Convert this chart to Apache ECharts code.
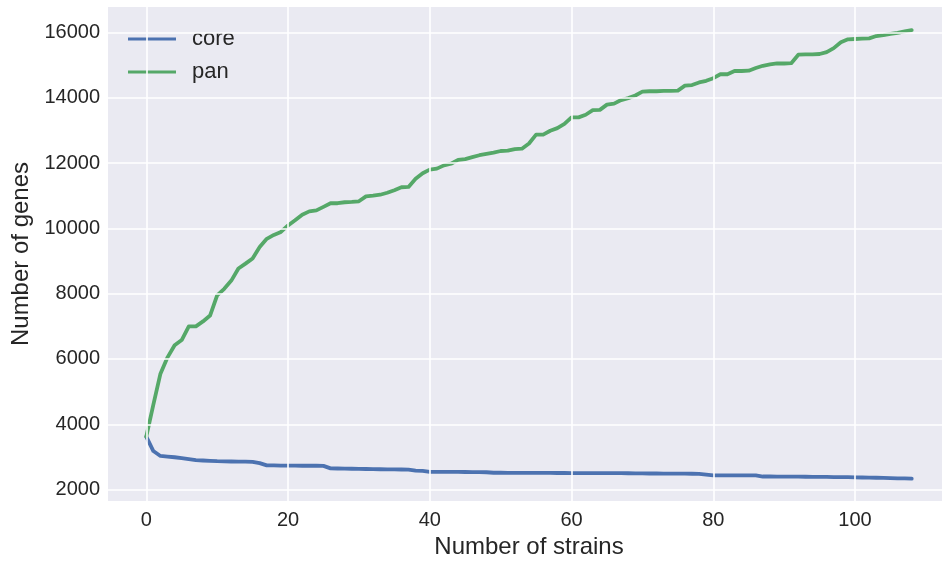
<!DOCTYPE html>
<html>
<head>
<meta charset="utf-8">
<script src="https://cdn.jsdelivr.net/npm/echarts@6/dist/echarts.min.js"></script>
<style>
html,body{margin:0;padding:0;background:#ffffff;}
#chart{width:942px;height:562px;}
</style>
</head>
<body>
<div id="chart"></div>
<script>
var seriesNames = ['core', 'pan'];
var core = [3620,3180,3030,3010,2990,2960,2930,2900,2890,2880,
  2870,2865,2860,2858,2855,2850,2810,2740,2740,2735,
  2735,2735,2730,2730,2730,2725,2650,2645,2640,2638,
  2635,2630,2625,2622,2620,2618,2615,2610,2580,2570,
  2545,2545,2543,2540,2540,2538,2535,2533,2530,2515,
  2515,2514,2513,2512,2511,2510,2510,2509,2508,2507,
  2506,2505,2505,2504,2503,2502,2502,2501,2500,2495,
  2494,2493,2492,2490,2489,2488,2486,2484,2480,2460,
  2435,2435,2434,2434,2433,2432,2432,2400,2400,2398,
  2396,2395,2394,2392,2390,2388,2386,2384,2382,2380,
  2375,2370,2366,2362,2358,2352,2346,2340,2335];
var pan = [3620,4600,5550,6050,6420,6580,7000,7000,7150,7330,
  7950,8150,8400,8770,8920,9080,9430,9680,9800,9890,
  10090,10250,10420,10520,10550,10660,10770,10770,10800,10810,
  10830,10980,11000,11030,11090,11170,11260,11270,11520,11690,
  11800,11830,11930,11980,12100,12120,12180,12240,12280,12320,
  12370,12380,12430,12440,12600,12870,12870,12990,13070,13200,
  13400,13400,13480,13620,13630,13790,13820,13930,13990,14070,
  14190,14200,14200,14210,14210,14220,14370,14390,14470,14520,
  14600,14720,14720,14820,14820,14830,14910,14980,15020,15050,
  15050,15060,15320,15330,15330,15340,15400,15520,15700,15790,
  15800,15810,15820,15890,15920,15960,15990,16030,16070];
var xTicks = [0, 20, 40, 60, 80, 100];
var yTicks = [2000, 4000, 6000, 8000, 10000, 12000, 14000, 16000];

function pairs(arr) { return arr.map(function (v, i) { return [i, v]; }); }

var textColor = '#262626';
var font = 'Liberation Sans';
var gridLines = [];
xTicks.forEach(function (t) { gridLines.push({ xAxis: t }); });
yTicks.forEach(function (t) { gridLines.push({ yAxis: t }); });

var chart = echarts.init(document.getElementById('chart'), null, { renderer: 'canvas' });
chart.setOption({
  animation: false,
  backgroundColor: '#ffffff',
  textStyle: { fontFamily: font },
  grid: {
    left: 108, top: 7, width: 842, height: 494,
    backgroundColor: '#EAEAF2', show: true, borderWidth: 0,
    containLabel: false, outerBoundsMode: 'none'
  },
  legend: {
    data: seriesNames,
    orient: 'vertical',
    left: 123, top: 23,
    itemWidth: 48, itemHeight: 3, itemGap: 11,
    textStyle: { fontSize: 22, color: textColor, fontFamily: font, padding: [0, 0, 0, 11] },
    icon: 'rect'
  },
  xAxis: {
    type: 'value', min: -5.4, max: 113.4,
    name: 'Number of strains', nameLocation: 'middle', nameGap: 34,
    nameTextStyle: { fontSize: 24, color: textColor, fontFamily: font },
    axisLine: { show: false }, axisTick: { show: false }, splitLine: { show: false },
    axisLabel: { customValues: xTicks, fontSize: 20, color: textColor, margin: 9, fontFamily: font }
  },
  yAxis: {
    type: 'value', min: 1650, max: 16780,
    name: 'Number of genes', nameLocation: 'middle', nameGap: 72,
    nameTextStyle: { fontSize: 24, color: textColor, fontFamily: font },
    axisLine: { show: false }, axisTick: { show: false }, splitLine: { show: false },
    axisLabel: {
      customValues: yTicks, fontSize: 20, color: textColor, margin: 8, fontFamily: font,
      formatter: function (v) { return String(v); }
    }
  },
  series: [
    {
      name: '_grid', type: 'line', data: [], z: 1, silent: true,
      markLine: {
        silent: true, symbol: 'none', label: { show: false },
        lineStyle: { color: '#ffffff', width: 1.6, type: 'solid' },
        emphasis: { disabled: true },
        data: gridLines
      }
    },
    {
      name: seriesNames[0], type: 'line', data: pairs(core), z: 3,
      showSymbol: false, symbol: 'none',
      itemStyle: { color: '#4C72B0' },
      lineStyle: { color: '#4C72B0', width: 3.8, cap: 'round', join: 'round' }
    },
    {
      name: seriesNames[1], type: 'line', data: pairs(pan), z: 3,
      showSymbol: false, symbol: 'none',
      itemStyle: { color: '#55A868' },
      lineStyle: { color: '#55A868', width: 3.8, cap: 'round', join: 'round' }
    }
  ]
});
</script>
</body>
</html>
